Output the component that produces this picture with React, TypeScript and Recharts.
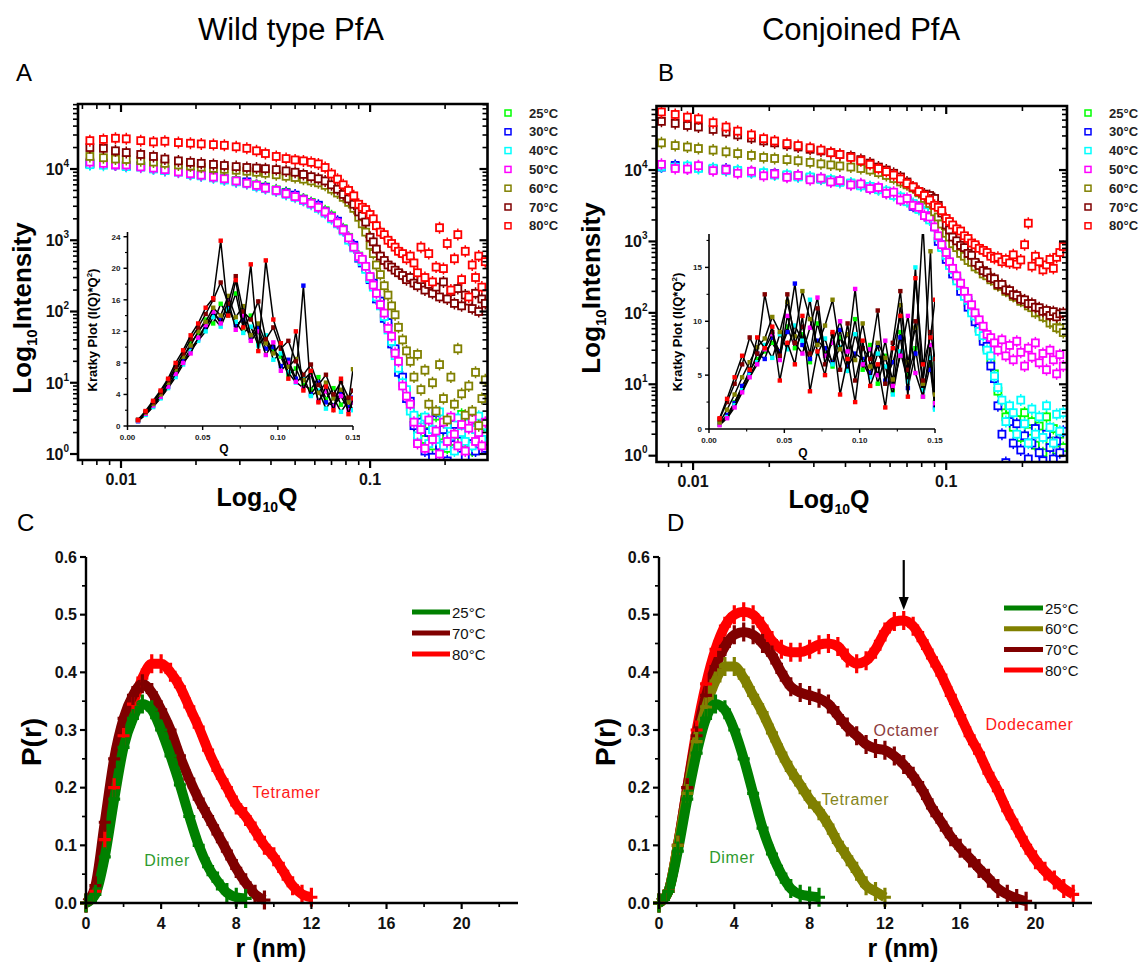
import React from 'react';
import { ScatterChart, Scatter, LineChart, Line, XAxis, YAxis, ReferenceDot } from 'recharts';

const FONT = '"Liberation Sans", Arial, Helvetica, sans-serif';

// ---------------- categories ----------------
const tempLabels = ['25°C', '30°C', '40°C', '50°C', '60°C', '70°C', '80°C'];
const saxsColors = ['#00ff00', '#0000ff', '#00ffff', '#ff00ff', '#808000', '#800000', '#ff0000'];

// ---------------- SAXS log-log data (Q, intensity) ----------------
const qValues = [
  0.0075, 0.0085, 0.0095, 0.0105, 0.012, 0.0135, 0.015, 0.017, 0.019, 0.021, 0.0235, 0.026, 0.029, 0.032, 0.035, 0.038, 0.042, 0.046, 0.05, 0.054, 0.058, 0.062, 0.066, 0.07, 0.074, 0.078, 0.082, 0.086, 0.09,
  0.093, 0.096, 0.1, 0.103, 0.106, 0.11, 0.114, 0.118, 0.122, 0.126, 0.13, 0.135, 0.14, 0.145, 0.15, 0.155, 0.16, 0.166, 0.172, 0.178, 0.184, 0.19, 0.197, 0.204, 0.211, 0.218, 0.225, 0.233, 0.241, 0.249, 0.257, 0.265, 0.273, 0.281, 0.29,
];

const wt25 = [12000, 11800, 11600, 11200, 10900, 10400, 9900, 9300, 8700, 8300, 7800, 7400, 6900, 6500, 6000, 5600, 5100, 4700, 4200, 3800, 3400, 3000, 2600, 2200, 1800, 1450, 1100, 820, 600,
  520, 410, 300, 240, 170, 130, 92, 62, 42, 28, 19, 11, 7.5, 4.6, 3.2, 2.2, 3.1, 1.6, 2.6, 1.3, 3.4, 1.8, 2.5, 1.2, 2.9, 1.5, 2.2, 3.6, 1.4, 2.4, 1.1, 3, 1.7, 2.6, 1.9];
const wt30 = [11800, 12100, 11400, 11000, 11100, 10200, 9600, 9500, 8500, 8100, 7900, 7200, 6700, 6600, 5800, 5500, 5000, 4600, 4300, 3700, 3300, 3100, 2500, 2100, 1850, 1400, 1050, 850, 560,
  480, 420, 280, 250, 150, 140, 80, 70, 35, 30, 14, 12, 6, 5.5, 2.5, 1.5, 2.8, 1.1, 2, 0.9, 3.8, 1.3, 2.2, 0.8, 1.7, 2.6, 1.2, 1.9, 0.9, 2.8, 1.4, 1.1, 2.3, 1.6, 1.2];
const wt40 = [11500, 11300, 11700, 10800, 10600, 10000, 9500, 9000, 8400, 8000, 7500, 7000, 6600, 6200, 5700, 5300, 4900, 4400, 4000, 3600, 3200, 2800, 2400, 2000, 1700, 1350, 1000, 780, 580,
  500, 390, 290, 220, 160, 120, 85, 55, 38, 24, 16, 10, 8, 4, 3.5, 1.8, 2.4, 3.3, 1.4, 2.2, 1.6, 3.9, 1.3, 2.6, 1.8, 1.1, 3.2, 2, 1.5, 2.7, 1.3, 2.2, 3.4, 1.6, 2.5];
const wt50 = [12500, 12000, 11500, 11400, 10700, 10300, 9800, 9100, 8600, 8200, 7700, 7300, 6800, 6300, 5900, 5400, 5000, 4500, 4100, 3700, 3300, 2900, 2500, 2100, 1750, 1400, 1080, 800, 590,
  540, 430, 310, 235, 180, 125, 95, 58, 45, 26, 20, 9, 6.5, 5, 2.8, 1.4, 2.2, 1.2, 3, 1.6, 2.1, 1, 2.8, 1.5, 3.3, 1.9, 1.3, 2.6, 1.1, 2.3, 3.1, 1.5, 2, 1.3, 2.8];
const wt60 = [15000, 14400, 13800, 13600, 13100, 12500, 12000, 11400, 11000, 10600, 10200, 9900, 9600, 9300, 9000, 8700, 8300, 7900, 7600, 7200, 6800, 6400, 5900, 5200, 4600, 4000, 3400, 2800, 2100,
  1700, 1300, 850, 650, 450, 330, 230, 170, 120, 90, 60, 40, 28, 20, 12, 25, 8, 15, 5, 10, 4, 18, 6, 3, 12, 5, 30, 7, 3.5, 9, 4, 14, 2.5, 6, 11];
const wt70 = [20000, 19500, 18000, 17000, 16000, 15000, 13800, 13000, 12400, 12000, 11600, 11200, 10800, 10500, 10300, 10100, 9800, 9400, 9000, 8400, 7800, 7300, 6800, 6000, 5200, 4400, 3800, 3200, 2500,
  2200, 1800, 1100, 950, 750, 600, 520, 450, 420, 380, 350, 320, 280, 300, 250, 230, 280, 200, 240, 180, 220, 160, 260, 150, 190, 130, 210, 120, 170, 140, 110, 180, 100, 150, 130];
const wt80 = [25000, 26000, 27000, 26500, 25000, 24000, 24500, 23500, 23000, 22500, 22000, 21500, 20500, 19500, 18000, 16500, 15000, 14000, 13400, 13000, 12400, 11800, 10500, 8500, 7200, 6000, 5000, 4200, 3200,
  2900, 2700, 2300, 2000, 1600, 1300, 1200, 1000, 900, 800, 700, 650, 550, 600, 480, 350, 800, 300, 650, 260, 420, 1500, 400, 900, 200, 550, 1200, 280, 700, 160, 450, 300, 600, 220, 500];

const cj25 = [11500, 11200, 11000, 10800, 10400, 10000, 9700, 9300, 9000, 8700, 8400, 8200, 7900, 7500, 7200, 6900, 6500, 6100, 5800, 5400, 5000, 4500, 4100, 3700, 3300, 2900, 2500, 2100, 1700,
  1100, 850, 620, 480, 380, 300, 230, 180, 140, 110, 85, 60, 45, 32, 22, 14, 8, 5, 3.5, 4.5, 2.5, 3.2, 1.8, 4, 2.2, 3, 1.4, 2.6, 1.1, 3.5, 1.6, 2.4, 1.2, 2, 1.3];
const cj30 = [11000, 11600, 10600, 11100, 10200, 10300, 9500, 9400, 8800, 8900, 8200, 8300, 7700, 7600, 7000, 7000, 6300, 6200, 5600, 5500, 4800, 4600, 3900, 3800, 3100, 3000, 2300, 2200, 1600,
  1000, 900, 560, 500, 350, 320, 200, 190, 120, 115, 75, 62, 40, 34, 18, 12, 5, 2, 0.8, 3, 1.5, 2.8, 1.2, 1.9, 0.9, 1.5, 2.4, 1.1, 0.85, 2, 1.3, 0.9, 1.6, 1.1, 2.2];
const cj40 = [11200, 10900, 11400, 10500, 10600, 9800, 9900, 9100, 9200, 8500, 8600, 8000, 8000, 7400, 7300, 6700, 6600, 6000, 5900, 5300, 5100, 4400, 4200, 3600, 3400, 2800, 2600, 2000, 1800,
  1150, 820, 640, 460, 400, 280, 240, 170, 150, 100, 90, 55, 48, 30, 25, 13, 9, 6, 3, 5, 4, 2, 6, 2.8, 1.5, 4.5, 2, 3.5, 1.8, 5, 2.5, 1.5, 3.8, 2.2, 4];
const cj50 = [12000, 10500, 10300, 11500, 9800, 10100, 9000, 9600, 8300, 8800, 7900, 8400, 7300, 7700, 6800, 7100, 6200, 6400, 5500, 5700, 4700, 4900, 3800, 4000, 3200, 3000, 2300, 2200, 1600,
  1200, 900, 700, 520, 420, 330, 260, 200, 160, 130, 100, 80, 65, 50, 45, 38, 30, 42, 25, 35, 22, 40, 28, 18, 32, 24, 38, 20, 27, 16, 30, 22, 14, 26, 18];
const cj60 = [24000, 22000, 21000, 20000, 19000, 18000, 17000, 16000, 15000, 14500, 14000, 13500, 12800, 12200, 11800, 11400, 11000, 10500, 10000, 9200, 8400, 7600, 6800, 6200, 5600, 4800, 4000, 3400, 2600,
  2200, 1750, 1300, 1150, 930, 820, 680, 620, 540, 510, 440, 410, 350, 330, 290, 280, 240, 235, 200, 195, 170, 165, 145, 142, 125, 118, 100, 102, 88, 86, 72, 73, 62, 61, 53];
const cj70 = [48000, 45000, 42000, 40000, 37000, 34000, 31000, 28000, 25500, 24000, 22500, 21000, 19500, 18500, 17500, 16500, 15500, 14000, 12500, 11000, 10000, 9000, 8000, 6800, 5800, 5000, 4600, 4400, 4000,
  3200, 2500, 1700, 1450, 1150, 1020, 880, 820, 680, 640, 510, 460, 390, 370, 310, 300, 250, 250, 210, 205, 180, 175, 155, 152, 135, 135, 120, 118, 105, 108, 92, 104, 88, 97, 100];
const cj80 = [65000, 60000, 55000, 52000, 46000, 40000, 35000, 31000, 27500, 25500, 23500, 22000, 20500, 19000, 17500, 16500, 15000, 13500, 12000, 10500, 9500, 8500, 7500, 6500, 5800, 5000, 4400, 3800, 3200,
  3000, 2700, 2100, 1900, 1700, 1500, 1400, 1200, 1100, 950, 900, 800, 750, 700, 620, 580, 600, 520, 560, 500, 650, 480, 550, 900, 1800, 450, 620, 520, 400, 470, 560, 420, 600, 700, 850];

// ---------------- Kratky insets ----------------
const kratkyQ = [0.007, 0.012, 0.017, 0.022, 0.027, 0.032, 0.037, 0.042, 0.047, 0.052, 0.057, 0.062, 0.067, 0.072, 0.077, 0.082, 0.087, 0.092, 0.097, 0.102, 0.107, 0.112, 0.117, 0.122, 0.127, 0.132, 0.137, 0.142, 0.147, 0.15];

const wtK25 = [0.7, 1.6, 2.7, 3.9, 5.3, 7, 8.6, 10.5, 11.8, 13.5, 13, 15.5, 14, 16.8, 12.4, 14, 10.5, 11.2, 9.5, 8.8, 6.5, 7.3, 5.2, 4.6, 6.2, 3.4, 4.8, 2.7, 3.5, 3.2];
const wtK30 = [0.6, 1.5, 2.5, 3.6, 5, 6.5, 8.2, 9.8, 11, 12.5, 14.2, 13.5, 15, 12.8, 13.5, 11.2, 12.4, 9.8, 10, 7.6, 8.4, 6, 17.8, 4, 5.5, 3, 2.6, 4.2, 2.4, 3.6];
const wtK40 = [0.65, 1.4, 2.4, 3.5, 4.8, 6.2, 7.8, 9.5, 10.8, 12, 13.8, 12.6, 14.8, 13.2, 11.8, 12.6, 10.2, 11.5, 8.4, 9.2, 6.8, 5.5, 6.4, 3.8, 4.5, 2.2, 3.6, 1.8, 3.2, 2];
const wtK50 = [0.7, 1.55, 2.6, 3.7, 5, 6.6, 8, 9.2, 11.2, 12.8, 14.5, 13, 16, 12.2, 14, 10.8, 12, 9, 10.6, 7, 8, 5.6, 4.8, 6.6, 3.2, 4.4, 2.5, 3.8, 2, 3];
const wtK60 = [0.75, 1.7, 2.8, 4, 5.5, 7.2, 8.8, 10.2, 12, 13.2, 15, 14, 16.5, 13.8, 15.2, 11.5, 13, 10.5, 9.2, 10.5, 7.5, 8.5, 5.8, 6.8, 4.2, 5.5, 3.5, 4.6, 3, 7.2];
const wtK70 = [0.8, 1.8, 3, 4.3, 5.8, 7.5, 9.2, 11, 12.5, 14.2, 16, 18.2, 15.5, 19, 14.5, 13.5, 15.8, 11, 12.5, 9.8, 10.8, 8.2, 6.5, 7.8, 5.2, 6.5, 4, 5.6, 3.6, 4.5];
const wtK80 = [0.75, 1.9, 3.2, 4.5, 6, 8, 9.6, 11.5, 13, 15, 16.2, 23.5, 14, 18.5, 12.5, 20.5, 9.5, 21, 13.5, 10.5, 6, 12, 4.5, 7, 3, 5, 2, 6, 1.5, 3.5];

const cjK25 = [0.4, 1.2, 2.5, 3.8, 5.5, 6.5, 7.2, 8, 6.8, 9.5, 7.5, 8.8, 6.2, 9.8, 7, 5.8, 8.5, 6.5, 10.2, 5.5, 7.8, 4.2, 6.8, 3.5, 9, 5, 7.5, 3, 6, 2.5];
const cjK30 = [0.5, 1.3, 2.4, 4, 5.2, 7, 6.5, 8.5, 7.2, 9, 13.5, 7.8, 6.5, 8.2, 7.5, 6.2, 9.2, 5.8, 7, 6.5, 5.2, 7.8, 4.5, 6.2, 8.5, 3.8, 7, 19, 5.5, 2];
const cjK40 = [0.45, 1.1, 2.2, 3.6, 5, 6.2, 7.8, 6.6, 8.8, 7.4, 9.6, 8.2, 12, 7, 8.4, 6, 7.6, 5.4, 8.8, 6.2, 4.8, 7, 5.8, 3.2, 7.2, 4.4, 15, 3.6, 6.6, 1.8];
const cjK50 = [0.35, 1, 2, 3.4, 4.8, 6, 7.4, 8.8, 6.4, 10.5, 8, 7, 9.4, 12.2, 6.8, 8, 10, 7.2, 13, 6, 7.4, 5, 8.2, 4, 6.8, 10.5, 5.2, 3, 7.8, 2.4];
const cjK60 = [0.6, 1.8, 3.2, 4.8, 6.2, 7.6, 8.4, 10.4, 9, 11.8, 8.6, 12.8, 10.2, 7.8, 9.6, 12, 7.4, 8.8, 6.4, 9.8, 5.8, 8, 6.6, 4.6, 11.5, 6.2, 9.4, 4.2, 16.5, 3.2];
const cjK70 = [0.9, 2.5, 4.2, 6, 8.5, 7, 12.5, 9, 6.8, 12.5, 8, 9.5, 7, 11.2, 6, 8.8, 5.5, 9.8, 4.5, 7.5, 6.5, 11, 4.2, 8, 12.8, 5.5, 10, 4.5, 9, 6.5];
const cjK80 = [1, 2.8, 4.8, 6.8, 5.5, 8.5, 7.5, 9.5, 4.5, 8, 6, 10.5, 3.5, 7.2, 5, 9, 3.2, 6.5, 2.5, 8.2, 4, 6, 2, 7.5, 10.5, 3, 14, 6, 8.5, 12];

// ---------------- P(r) data ----------------
const rValues = [0, 0.5, 1, 1.5, 2, 2.5, 3, 3.5, 4, 4.5, 5, 5.5, 6, 6.5, 7, 7.5, 8, 8.5, 9, 9.5, 10, 10.5, 11, 11.5, 12, 12.5, 13, 13.5, 14, 14.5, 15, 15.5, 16, 16.5, 17, 17.5, 18, 18.5, 19, 19.5, 20, 20.5, 21, 21.5, 22];

const prWt25 = [0, 0.015, 0.08, 0.18, 0.27, 0.32, 0.345, 0.335, 0.3, 0.255, 0.205, 0.15, 0.1, 0.063, 0.038, 0.018, 0.01, 0.008];
const prWt70 = [0, 0.03, 0.14, 0.25, 0.32, 0.36, 0.38, 0.365, 0.335, 0.3, 0.255, 0.215, 0.18, 0.15, 0.12, 0.09, 0.06, 0.035, 0.015, 0.005];
const prWt80 = [0, 0.02, 0.11, 0.2, 0.29, 0.345, 0.39, 0.415, 0.415, 0.4, 0.375, 0.34, 0.305, 0.265, 0.23, 0.2, 0.17, 0.15, 0.125, 0.1, 0.08, 0.055, 0.03, 0.015, 0.01];

const prCj25 = [0, 0.02, 0.09, 0.18, 0.26, 0.32, 0.345, 0.335, 0.3, 0.25, 0.19, 0.13, 0.085, 0.05, 0.025, 0.015, 0.012, 0.01];
const prCj60 = [0, 0.02, 0.1, 0.19, 0.28, 0.34, 0.385, 0.41, 0.41, 0.39, 0.36, 0.33, 0.295, 0.26, 0.23, 0.205, 0.18, 0.16, 0.135, 0.105, 0.08, 0.055, 0.03, 0.02, 0.01];
const prCj70 = [0, 0.02, 0.1, 0.2, 0.29, 0.36, 0.41, 0.445, 0.465, 0.47, 0.465, 0.45, 0.43, 0.4, 0.375, 0.365, 0.36, 0.355, 0.345, 0.325, 0.305, 0.29, 0.275, 0.268, 0.265, 0.255, 0.24, 0.22, 0.195, 0.165, 0.14, 0.115, 0.095, 0.078, 0.06, 0.043, 0.025, 0.015, 0.008, 0.003];
const prCj80 = [0, 0.02, 0.1, 0.2, 0.3, 0.38, 0.44, 0.48, 0.5, 0.505, 0.5, 0.48, 0.455, 0.44, 0.435, 0.435, 0.44, 0.448, 0.45, 0.445, 0.425, 0.415, 0.42, 0.44, 0.47, 0.488, 0.49, 0.48, 0.455, 0.425, 0.395, 0.36, 0.325, 0.29, 0.26, 0.225, 0.195, 0.16, 0.13, 0.1, 0.075, 0.055, 0.04, 0.025, 0.015];

const prWtLabels = ['25°C', '70°C', '80°C'];
const prWtColors = ['#008000', '#800000', '#ff0000'];
const prCjLabels = ['25°C', '60°C', '70°C', '80°C'];
const prCjColors = ['#008000', '#808000', '#800000', '#ff0000'];

const wtNotes = [
  { r: 10.67, p: 0.1925, text: 'Tetramer', color: '#ff1a1a' },
  { r: 4.32, p: 0.0746, text: 'Dimer', color: '#2e9b2e' },
];
const cjNotes = [
  { r: 13.14, p: 0.3, text: 'Octamer', color: '#8c3c3c' },
  { r: 19.68, p: 0.31, text: 'Dodecamer', color: '#ff1a1a' },
  { r: 10.43, p: 0.18, text: 'Tetramer', color: '#858520' },
  { r: 3.88, p: 0.08, text: 'Dimer', color: '#2e9b2e' },
];
const cjArrow = { r: 13, p: 0.508 };

// ---------------- ticks ----------------
const logYTicks = [1, 2, 3, 4, 5, 6, 7, 8, 9, 10, 20, 30, 40, 50, 60, 70, 80, 90, 100, 200, 300, 400, 500, 600, 700, 800, 900, 1000, 2000, 3000, 4000, 5000, 6000, 7000, 8000, 9000, 10000, 20000, 30000, 40000, 50000, 60000, 70000, 80000];
const logXTicks = [0.007, 0.008, 0.009, 0.01, 0.02, 0.03, 0.04, 0.05, 0.06, 0.07, 0.08, 0.09, 0.1, 0.2];
const kratkyXTicks = [0, 0.025, 0.05, 0.075, 0.1, 0.125, 0.15];
const kratkyYTicksWt = [0, 2, 4, 6, 8, 10, 12, 14, 16, 18, 20, 22, 24];
const kratkyYTicksCj = [0, 2.5, 5, 7.5, 10, 12.5, 15, 17.5];
const prXTicks = [0, 2, 4, 6, 8, 10, 12, 14, 16, 18, 20, 22];
const prYTicks = [0, 0.05, 0.1, 0.15, 0.2, 0.25, 0.3, 0.35, 0.4, 0.45, 0.5, 0.55, 0.6];

// ---------------- layout (plot rectangles) ----------------
type Rect = { x0: number; x1: number; y0: number; y1: number };
const plotA: Rect = { x0: 78, x1: 487.5, y0: 104, y1: 460 };
const plotB: Rect = { x0: 656.5, x1: 1067, y0: 106, y1: 462 };
const plotKA: Rect = { x0: 127.5, x1: 353, y0: 232, y1: 426 };
const plotKB: Rect = { x0: 709, x1: 935, y0: 234, y1: 429 };
const plotC: Rect = { x0: 86, x1: 518, y0: 557, y1: 903 };
const plotD: Rect = { x0: 659, x1: 1092, y0: 557, y1: 903 };
const domA = { x: [0.00672, 0.296] as [number, number], y: [0.824, 81700] as [number, number] };
const domB = { x: [0.00717, 0.3] as [number, number], y: [0.816, 78800] as [number, number] };

// ---------------- helpers ----------------
type Orient = 'bottom' | 'left';
interface TickOpts {
  orient: Orient;
  isMajor: (v: number) => boolean;
  gap?: number;
  fontSize?: number;
  fmt?: (v: number) => React.ReactNode;
  color?: string;
}
function makeTick(o: TickOpts) {
  return (props: any) => {
    const { x, y, payload } = props;
    const v = Number(payload.value);
    const maj = o.isMajor(v);
    const fs = o.fontSize ?? 16;
    if (!maj || !o.fmt) return <g />;
    if (o.orient === 'bottom') {
      return (
        <text x={x} y={y + (o.gap ?? 20)} textAnchor="middle" fontSize={fs} fontWeight="bold" fill={o.color ?? '#111'} fontFamily={FONT}>
          {o.fmt(v)}
        </text>
      );
    }
    return (
      <text x={x - (o.gap ?? 8)} y={y + fs * 0.36} textAnchor="end" fontSize={fs} fontWeight="bold" fill={o.color ?? '#111'} fontFamily={FONT}>
        {o.fmt(v)}
      </text>
    );
  };
}

const isDecade = (v: number) => Math.abs(Math.log10(v) - Math.round(Math.log10(v))) < 1e-6;
const isMultiple = (step: number) => (v: number) => Math.abs(v / step - Math.round(v / step)) < 1e-6;
const powFmt = (v: number) => [
  <tspan key="b">10</tspan>,
  <tspan key="e" dy={-8} fontSize={10}>
    {Math.round(Math.log10(v))}
  </tspan>,
];

const logPos = (v: number, d: [number, number], p0: number, p1: number) =>
  p0 + ((Math.log10(v) - Math.log10(d[0])) / (Math.log10(d[1]) - Math.log10(d[0]))) * (p1 - p0);
const linPos = (v: number, d: [number, number], p0: number, p1: number) => p0 + ((v - d[0]) / (d[1] - d[0])) * (p1 - p0);

const squareShape = (color: string) => (props: any) => {
  const { cx, cy } = props;
  if (cx == null || cy == null || isNaN(cx) || isNaN(cy)) return <g />;
  return (
    <g>
      <line x1={cx} y1={cy - 6} x2={cx} y2={cy + 6} stroke={color} strokeWidth={1.5} />
      <rect x={cx - 3.5} y={cy - 3.5} width={7} height={7} fill="#fff" stroke={color} strokeWidth={1.8} />
    </g>
  );
};
const dotShape = (color: string) => (props: any) => {
  const { cx, cy } = props;
  if (cx == null || cy == null || isNaN(cx) || isNaN(cy)) return <g />;
  return <rect x={cx - 2.2} y={cy - 2.2} width={4.4} height={4.4} fill={color} />;
};
const plusDot = (color: string) => (props: any) => {
  const { cx, cy, index } = props;
  if (cx == null || cy == null) return <g key={`n${index}`} />;
  return (
    <path
      key={`p${index}`}
      d={`M${cx - 6},${cy}H${cx + 6}M${cx},${cy - 9.5}V${cy + 9.5}`}
      stroke={color}
      strokeWidth={3.2}
      fill="none"
    />
  );
};

// ---------------- panels ----------------
type Margin = { top: number; right: number; bottom: number; left: number };
interface SaxsProps {
  left: number;
  top: number;
  width: number;
  height: number;
  margin: Margin;
  yW: number;
  xH: number;
  xDomain: [number, number];
  yDomain: [number, number];
  series: number[][];
}
function SaxsPanel(p: SaxsProps) {
  const xt = logXTicks.filter((t) => t >= p.xDomain[0] && t <= p.xDomain[1]);
  const yt = logYTicks.filter((t) => t >= p.yDomain[0] && t <= p.yDomain[1]);
  return (
    <div style={{ position: 'absolute', left: p.left, top: p.top, fontFamily: FONT }}>
      <ScatterChart width={p.width} height={p.height} margin={p.margin}>
        <XAxis
          type="number"
          dataKey="q"
          scale="log"
          domain={p.xDomain}
          allowDataOverflow
          ticks={xt}
          interval={0}
          tickSize={0}
          tickMargin={0}
          tickLine={false}
          axisLine={false}
          height={p.xH}
          tick={makeTick({ orient: 'bottom', isMajor: isDecade, gap: 25, fontSize: 16, fmt: (v) => String(v) })}
        />
        <YAxis
          type="number"
          dataKey="v"
          scale="log"
          domain={p.yDomain}
          allowDataOverflow
          ticks={yt}
          interval={0}
          tickSize={0}
          tickMargin={0}
          tickLine={false}
          axisLine={false}
          width={p.yW}
          tick={makeTick({ orient: 'left', isMajor: isDecade, gap: 9, fontSize: 16, fmt: powFmt })}
        />
        {p.series.map((s, si) => (
          <Scatter
            key={tempLabels[si]}
            name={tempLabels[si]}
            data={qValues.map((q, i) => ({ q, v: s[i] }))}
            fill={saxsColors[si]}
            shape={squareShape(saxsColors[si])}
            isAnimationActive={false}
          />
        ))}
      </ScatterChart>
    </div>
  );
}

interface KratkyProps {
  left: number;
  top: number;
  width: number;
  height: number;
  margin: Margin;
  yW: number;
  xH: number;
  yMax: number;
  yTicks: number[];
  yStep: number;
  series: number[][];
}
function KratkyInset(p: KratkyProps) {
  return (
    <div style={{ position: 'absolute', left: p.left, top: p.top, fontFamily: FONT }}>
      <ScatterChart width={p.width} height={p.height} margin={p.margin}>
        <XAxis
          type="number"
          dataKey="q"
          domain={[0, 0.15]}
          allowDataOverflow
          ticks={kratkyXTicks}
          interval={0}
          tickSize={0}
          tickMargin={0}
          tickLine={false}
          axisLine={false}
          height={p.xH}
          tick={makeTick({ orient: 'bottom', isMajor: isMultiple(0.05), gap: 14, fontSize: 8, fmt: (v) => v.toFixed(2), color: '#222' })}
        />
        <YAxis
          type="number"
          dataKey="k"
          domain={[0, p.yMax]}
          allowDataOverflow
          ticks={p.yTicks}
          interval={0}
          tickSize={0}
          tickMargin={0}
          tickLine={false}
          axisLine={false}
          width={p.yW}
          tick={makeTick({ orient: 'left', isMajor: isMultiple(p.yStep), gap: 7, fontSize: 8, fmt: (v) => String(v), color: '#222' })}
        />
        {p.series.map((s, si) => (
          <Scatter
            key={tempLabels[si]}
            name={tempLabels[si]}
            data={kratkyQ.map((q, i) => ({ q, k: s[i] }))}
            fill={saxsColors[si]}
            line={{ stroke: '#000', strokeWidth: 1.5 }}
            shape={dotShape(saxsColors[si])}
            isAnimationActive={false}
          />
        ))}
      </ScatterChart>
    </div>
  );
}

interface PrProps {
  left: number;
  top: number;
  width: number;
  height: number;
  margin: Margin;
  yW: number;
  xH: number;
  series: number[][];
  labels: string[];
  colors: string[];
  notes: { r: number; p: number; text: string; color: string }[];
  arrow?: { r: number; p: number };
}
function PrPanel(p: PrProps) {
  const order = p.series.map((_, i) => i).reverse();
  return (
    <div style={{ position: 'absolute', left: p.left, top: p.top, fontFamily: FONT }}>
      <LineChart width={p.width} height={p.height} margin={p.margin}>
        <XAxis
          type="number"
          dataKey="r"
          domain={[0, 23]}
          ticks={prXTicks}
          interval={0}
          tickSize={0}
          tickMargin={0}
          tickLine={false}
          axisLine={false}
          height={p.xH}
          tick={makeTick({ orient: 'bottom', isMajor: isMultiple(4), gap: 26, fontSize: 16, fmt: (v) => String(v) })}
        />
        <YAxis
          type="number"
          domain={[0, 0.6]}
          ticks={prYTicks}
          interval={0}
          tickSize={0}
          tickMargin={0}
          tickLine={false}
          axisLine={false}
          width={p.yW}
          tick={makeTick({ orient: 'left', isMajor: isMultiple(0.1), gap: 9, fontSize: 16, fmt: (v) => v.toFixed(1) })}
        />
        {order.map((si) => (
          <Line
            key={p.labels[si]}
            name={p.labels[si]}
            data={p.series[si].map((v, i) => ({ r: rValues[i], p: v }))}
            dataKey="p"
            type="monotone"
            stroke={p.colors[si]}
            strokeWidth={10}
            dot={plusDot(p.colors[si])}
            activeDot={false}
            isAnimationActive={false}
          />
        ))}
        {p.notes.map((n) => (
          <ReferenceDot
            key={n.text}
            x={n.r}
            y={n.p}
            r={0}
            ifOverflow="visible"
            fill="none"
            stroke="none"
            label={{ value: n.text, position: 'center', fill: n.color, fontSize: 16, letterSpacing: 0.6 }}
          />
        ))}
        {p.arrow && (
          <ReferenceDot
            x={p.arrow.r}
            y={p.arrow.p}
            r={0}
            ifOverflow="visible"
            shape={(s: any) => (
              <g>
                <line x1={s.cx} y1={s.cy - 50} x2={s.cx} y2={s.cy - 10} stroke="#000" strokeWidth={2.2} />
                <polygon points={`${s.cx - 5},${s.cy - 13} ${s.cx + 5},${s.cy - 13} ${s.cx},${s.cy}`} fill="#000" />
              </g>
            )}
          />
        )}
      </LineChart>
    </div>
  );
}

// ---------------- axis frames (lines + tick marks) ----------------
const INK = '#000000';
function LogBox({ r, d }: { r: Rect; d: { x: [number, number]; y: [number, number] } }) {
  const xt = logXTicks.filter((t) => t >= d.x[0] && t <= d.x[1]);
  const yt = logYTicks.filter((t) => t >= d.y[0] && t <= d.y[1]);
  return (
    <g>
      <path d={`M${r.x0},${r.y0}H${r.x1}V${r.y1}H${r.x0}Z`} fill="none" stroke={INK} strokeWidth={2.6} />
      {xt.map((t) => {
        const x = logPos(t, d.x, r.x0, r.x1);
        const len = isDecade(t) ? 8 : 5;
        const sw = isDecade(t) ? 2.2 : 1.6;
        return (
          <g key={`x${t}`}>
            <line x1={x} x2={x} y1={r.y1} y2={r.y1 + len} stroke={INK} strokeWidth={sw} />
            <line x1={x} x2={x} y1={r.y0} y2={r.y0 + len} stroke={INK} strokeWidth={sw} />
          </g>
        );
      })}
      {yt.map((t) => {
        const y = logPos(t, d.y, r.y1, r.y0);
        const len = isDecade(t) ? 8 : 5;
        const sw = isDecade(t) ? 2.2 : 1.6;
        return (
          <g key={`y${t}`}>
            <line x1={r.x0} x2={r.x0 - len} y1={y} y2={y} stroke={INK} strokeWidth={sw} />
            <line x1={r.x1} x2={r.x1 - len} y1={y} y2={y} stroke={INK} strokeWidth={sw} />
          </g>
        );
      })}
    </g>
  );
}
interface LinAxesProps {
  r: Rect;
  xd: [number, number];
  yd: [number, number];
  xt: number[];
  yt: number[];
  xMaj: (v: number) => boolean;
  yMaj: (v: number) => boolean;
  maj: number;
  min: number;
  sw: number;
}
function LinAxes({ r, xd, yd, xt, yt, xMaj, yMaj, maj, min, sw }: LinAxesProps) {
  return (
    <g>
      <path d={`M${r.x0},${r.y0}V${r.y1}H${r.x1}`} fill="none" stroke={INK} strokeWidth={sw} />
      {xt.map((t) => {
        const x = linPos(t, xd, r.x0, r.x1);
        return <line key={`x${t}`} x1={x} x2={x} y1={r.y1} y2={r.y1 + (xMaj(t) ? maj : min)} stroke={INK} strokeWidth={xMaj(t) ? sw * 0.9 : sw * 0.7} />;
      })}
      {yt.map((t) => {
        const y = linPos(t, yd, r.y1, r.y0);
        return <line key={`y${t}`} x1={r.x0} x2={r.x0 - (yMaj(t) ? maj : min)} y1={y} y2={y} stroke={INK} strokeWidth={yMaj(t) ? sw * 0.9 : sw * 0.7} />;
      })}
    </g>
  );
}

// ---------------- overlay texts ----------------
function Overlay() {
  const legendRows = [113, 131.8, 150.6, 169.4, 188.2, 207, 225.8];
  return (
    <svg width={1142} height={963} style={{ position: 'absolute', left: 0, top: 0, pointerEvents: 'none' }} fontFamily={FONT}>
      <LogBox r={plotA} d={domA} />
      <LogBox r={plotB} d={domB} />
      <LinAxes r={plotKA} xd={[0, 0.15]} yd={[0, 24.6]} xt={kratkyXTicks} yt={kratkyYTicksWt} xMaj={isMultiple(0.05)} yMaj={isMultiple(4)} maj={4} min={2.5} sw={1.6} />
      <LinAxes r={plotKB} xd={[0, 0.15]} yd={[0, 18.1]} xt={kratkyXTicks} yt={kratkyYTicksCj} xMaj={isMultiple(0.05)} yMaj={isMultiple(5)} maj={4} min={2.5} sw={1.6} />
      <LinAxes r={plotC} xd={[0, 23]} yd={[0, 0.6]} xt={prXTicks} yt={prYTicks} xMaj={isMultiple(4)} yMaj={isMultiple(0.1)} maj={6} min={4} sw={2.4} />
      <LinAxes r={plotD} xd={[0, 23]} yd={[0, 0.6]} xt={prXTicks} yt={prYTicks} xMaj={isMultiple(4)} yMaj={isMultiple(0.1)} maj={6} min={4} sw={2.4} />

      <text x={291} y={40} fontSize={31} textAnchor="middle" fill="#000">Wild type PfA</text>
      <text x={861} y={40} fontSize={31} textAnchor="middle" fill="#000">Conjoined PfA</text>
      <text x={16} y={81} fontSize={24} fill="#000">A</text>
      <text x={658} y={81} fontSize={24} fill="#000">B</text>
      <text x={17} y={531} fontSize={24} fill="#000">C</text>
      <text x={667} y={531} fontSize={24} fill="#000">D</text>

      <text transform="translate(31,308) rotate(-90)" textAnchor="middle" fontSize={26} fontWeight="bold">
        Log<tspan fontSize={15} dy={6}>10</tspan><tspan dy={-6}>Intensity</tspan>
      </text>
      <text transform="translate(600,288) rotate(-90)" textAnchor="middle" fontSize={26} fontWeight="bold">
        Log<tspan fontSize={15} dy={6}>10</tspan><tspan dy={-6}>Intensity</tspan>
      </text>
      <text x={257} y={506} textAnchor="middle" fontSize={25} fontWeight="bold">
        Log<tspan fontSize={14} dy={6}>10</tspan><tspan dy={-6}>Q</tspan>
      </text>
      <text x={829} y={508} textAnchor="middle" fontSize={25} fontWeight="bold">
        Log<tspan fontSize={14} dy={6}>10</tspan><tspan dy={-6}>Q</tspan>
      </text>
      <text transform="translate(41,742) rotate(-90)" textAnchor="middle" fontSize={28} fontWeight="bold">P(r)</text>
      <text transform="translate(615,742) rotate(-90)" textAnchor="middle" fontSize={28} fontWeight="bold">P(r)</text>
      <text x={271} y={957} textAnchor="middle" fontSize={25} fontWeight="bold">r (nm)</text>
      <text x={903} y={957} textAnchor="middle" fontSize={25} fontWeight="bold">r (nm)</text>

      <text transform="translate(97,330) rotate(-90)" textAnchor="middle" fontSize={13} fontWeight="bold">
        Kratky Plot (I(Q)*Q<tspan fontSize={8} dy={-5}>2</tspan><tspan dy={5}>)</tspan>
      </text>
      <text x={224} y={453} textAnchor="middle" fontSize={12} fontWeight="bold">Q</text>
      <text transform="translate(682,332) rotate(-90)" textAnchor="middle" fontSize={13} fontWeight="bold">
        Kratky Plot (I(Q*Q<tspan fontSize={8} dy={-5}>2</tspan><tspan dy={5}>)</tspan>
      </text>
      <text x={803} y={457} textAnchor="middle" fontSize={12} fontWeight="bold">Q</text>

      {tempLabels.map((t, i) => (
        <g key={`la${t}`}>
          <rect x={505} y={legendRows[i] - 3} width={6} height={6} fill="#fff" stroke={saxsColors[i]} strokeWidth={1.5} />
          <text x={529} y={legendRows[i] + 4.5} fontSize={13} fontWeight="bold" fill="#222">{t}</text>
        </g>
      ))}
      {tempLabels.map((t, i) => (
        <g key={`lb${t}`}>
          <rect x={1085} y={legendRows[i] - 3} width={6} height={6} fill="#fff" stroke={saxsColors[i]} strokeWidth={1.5} />
          <text x={1109} y={legendRows[i] + 4.5} fontSize={13} fontWeight="bold" fill="#222">{t}</text>
        </g>
      ))}

      {prWtLabels.map((t, i) => (
        <g key={`lc${t}`}>
          <line x1={412} x2={450} y1={612 + i * 21} y2={612 + i * 21} stroke={prWtColors[i]} strokeWidth={5} />
          <text x={452} y={612 + i * 21 + 5.5} fontSize={15} fill="#111">{t}</text>
        </g>
      ))}
      {prCjLabels.map((t, i) => (
        <g key={`ld${t}`}>
          <line x1={1004} x2={1043} y1={608 + i * 20.7} y2={608 + i * 20.7} stroke={prCjColors[i]} strokeWidth={5} />
          <text x={1045} y={608 + i * 20.7 + 5.5} fontSize={15} fill="#111">{t}</text>
        </g>
      ))}
    </svg>
  );
}

export default function App() {
  return (
    <div style={{ position: 'absolute', left: 0, top: 0, width: 1142, height: 963, background: '#fff', overflow: 'hidden' }}>
      <SaxsPanel
        left={0}
        top={90}
        width={500}
        height={420}
        margin={{ top: plotA.y0 - 90, right: 500 - plotA.x1, bottom: 0, left: 0 }}
        yW={plotA.x0}
        xH={90 + 420 - plotA.y1}
        xDomain={domA.x}
        yDomain={domA.y}
        series={[wt25, wt30, wt40, wt50, wt60, wt70, wt80]}
      />
      <KratkyInset
        left={90}
        top={225}
        width={270}
        height={230}
        margin={{ top: plotKA.y0 - 225, right: 360 - plotKA.x1, bottom: 0, left: 0 }}
        yW={plotKA.x0 - 90}
        xH={455 - plotKA.y1}
        yMax={24.6}
        yTicks={kratkyYTicksWt}
        yStep={4}
        series={[wtK25, wtK30, wtK40, wtK50, wtK60, wtK70, wtK80]}
      />
      <SaxsPanel
        left={570}
        top={90}
        width={510}
        height={422}
        margin={{ top: plotB.y0 - 90, right: 1080 - plotB.x1, bottom: 0, left: 0 }}
        yW={plotB.x0 - 570}
        xH={512 - plotB.y1}
        xDomain={domB.x}
        yDomain={domB.y}
        series={[cj25, cj30, cj40, cj50, cj60, cj70, cj80]}
      />
      <KratkyInset
        left={670}
        top={226}
        width={275}
        height={230}
        margin={{ top: plotKB.y0 - 226, right: 945 - plotKB.x1, bottom: 0, left: 0 }}
        yW={plotKB.x0 - 670}
        xH={456 - plotKB.y1}
        yMax={18.1}
        yTicks={kratkyYTicksCj}
        yStep={5}
        series={[cjK25, cjK30, cjK40, cjK50, cjK60, cjK70, cjK80]}
      />
      <PrPanel
        left={0}
        top={540}
        width={530}
        height={420}
        margin={{ top: plotC.y0 - 540, right: 530 - plotC.x1, bottom: 0, left: 0 }}
        yW={plotC.x0}
        xH={960 - plotC.y1}
        series={[prWt25, prWt70, prWt80]}
        labels={prWtLabels}
        colors={prWtColors}
        notes={wtNotes}
      />
      <PrPanel
        left={570}
        top={540}
        width={540}
        height={420}
        margin={{ top: plotD.y0 - 540, right: 1110 - plotD.x1, bottom: 0, left: 0 }}
        yW={plotD.x0 - 570}
        xH={960 - plotD.y1}
        series={[prCj25, prCj60, prCj70, prCj80]}
        labels={prCjLabels}
        colors={prCjColors}
        notes={cjNotes}
        arrow={cjArrow}
      />
      <Overlay />
    </div>
  );
}
